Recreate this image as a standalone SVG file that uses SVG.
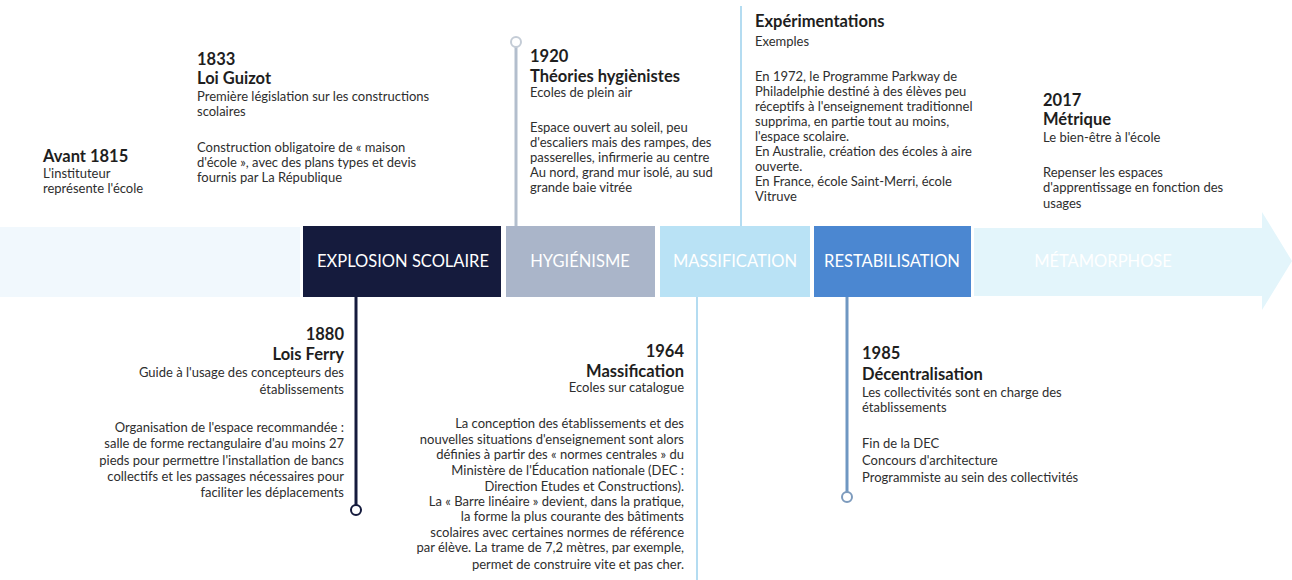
<svg xmlns="http://www.w3.org/2000/svg" width="1292" height="580" viewBox="0 0 1292 580">
  <style>
    text { font-family: Lato, "Open Sans", "Liberation Sans", sans-serif; }
    .yr { font-size: 16.5px; font-weight: 700; fill: #1e1e1e; }
    .ttl { font-size: 16.5px; font-weight: 700; fill: #1e1e1e; }
    .sub { font-size: 13px; fill: #2e2e2e; }
    .body { font-size: 13px; fill: #2e2e2e; }
    .band { font-size: 16.5px; fill: #ffffff; text-anchor: middle; }
    .end { text-anchor: end; }
    .pin { fill: #ffffff; stroke-width: 2; }
  </style>

  <rect width="1292" height="580" fill="#ffffff"/>

  <!-- timeline band -->
  <g id="band">
    <rect x="0" y="227" width="300" height="70" fill="#f1f8fd"/>
    <g id="phase-explosion">
      <rect x="303" y="226" width="198" height="71" fill="#151b3d"/>
      <text class="band" x="403" y="267" fill="#e9ebf2">EXPLOSION SCOLAIRE</text>
    </g>
    <g id="phase-hygienisme">
      <rect x="506" y="226" width="149" height="71" fill="#aab5c9"/>
      <text class="band" x="580" y="267">HYGIÉNISME</text>
    </g>
    <g id="phase-massification">
      <rect x="660" y="226" width="150" height="71" fill="#b9e2f5"/>
      <text class="band" x="735" y="267">MASSIFICATION</text>
    </g>
    <g id="phase-restabilisation">
      <rect x="814" y="226" width="157" height="71" fill="#4b87d1"/>
      <text class="band" x="892" y="267">RESTABILISATION</text>
    </g>
    <g id="phase-metamorphose">
      <path d="M974 228 H1262 V212 L1292 261 L1262 310 V296 H974 Z" fill="#e3f5fb"/>
      <text class="band" x="1103" y="267" fill="#f7fcfe">MÉTAMORPHOSE</text>
    </g>
  </g>

  <!-- connectors -->
  <g id="connectors" fill="none">
    <line x1="516" y1="47" x2="516" y2="226" stroke="#b3becd" stroke-width="3"/>
    <circle class="pin" cx="516" cy="42" r="5" stroke="#c4ccd6"/>
    <line x1="741" y1="6" x2="741" y2="226" stroke="#b4dcf1" stroke-width="2"/>
    <line x1="356" y1="297" x2="356" y2="505" stroke="#151b3d" stroke-width="3"/>
    <circle class="pin" cx="356" cy="510" r="5" stroke="#151b3d"/>
    <line x1="697" y1="297" x2="697" y2="580" stroke="#b4dcf1" stroke-width="2"/>
    <line x1="847" y1="297" x2="847" y2="492" stroke="#6f97c2" stroke-width="3"/>
    <circle class="pin" cx="847" cy="497" r="5" stroke="#7d9bbd"/>
  </g>

  <!-- events above the band -->
  <g id="e1815">
    <text class="ttl" x="43" y="162">Avant 1815</text>
    <text class="sub" x="43" y="178">L'instituteur</text>
    <text class="sub" x="43" y="193">représente l'école</text>
  </g>

  <g id="e1833">
    <text class="yr" x="197" y="65">1833</text>
    <text class="ttl" x="197" y="84">Loi Guizot</text>
    <text class="sub" x="197" y="101">Première législation sur les constructions</text>
    <text class="sub" x="197" y="116">scolaires</text>
    <text class="body" x="197" y="152">Construction obligatoire de « maison</text>
    <text class="body" x="197" y="167">d'école », avec des plans types et devis</text>
    <text class="body" x="197" y="182">fournis par La République</text>
  </g>

  <g id="e1920">
    <text class="yr" x="530" y="62">1920</text>
    <text class="ttl" x="530" y="82">Théories hygiènistes</text>
    <text class="sub" x="530" y="97">Ecoles de plein air</text>
    <text class="body" x="530" y="132">Espace ouvert au soleil, peu</text>
    <text class="body" x="530" y="147">d'escaliers mais des rampes, des</text>
    <text class="body" x="530" y="162">passerelles, infirmerie au centre</text>
    <text class="body" x="530" y="177">Au nord, grand mur isolé, au sud</text>
    <text class="body" x="530" y="192">grande baie vitrée</text>
  </g>

  <g id="experimentations">
    <text class="ttl" x="755" y="27">Expérimentations</text>
    <text class="sub" x="755" y="46">Exemples</text>
    <text class="body" x="755" y="81">En 1972, le Programme Parkway de</text>
    <text class="body" x="755" y="96">Philadelphie destiné à des élèves peu</text>
    <text class="body" x="755" y="111">réceptifs à l'enseignement traditionnel</text>
    <text class="body" x="755" y="126">supprima, en partie tout au moins,</text>
    <text class="body" x="755" y="141">l'espace scolaire.</text>
    <text class="body" x="755" y="156">En Australie, création des écoles à aire</text>
    <text class="body" x="755" y="171">ouverte.</text>
    <text class="body" x="755" y="186">En France, école Saint-Merri, école</text>
    <text class="body" x="755" y="201">Vitruve</text>
  </g>

  <g id="e2017">
    <text class="yr" x="1043" y="106">2017</text>
    <text class="ttl" x="1043" y="125">Métrique</text>
    <text class="sub" x="1043" y="142">Le bien-être à l'école</text>
    <text class="body" x="1043" y="177">Repenser les espaces</text>
    <text class="body" x="1043" y="192">d'apprentissage en fonction des</text>
    <text class="body" x="1043" y="208">usages</text>
  </g>

  <!-- events below the band -->
  <g id="e1880">
    <text class="yr end" x="344" y="340">1880</text>
    <text class="ttl end" x="344" y="360">Lois Ferry</text>
    <text class="sub end" x="344" y="377">Guide à l'usage des concepteurs des</text>
    <text class="sub end" x="344" y="394">établissements</text>
    <text class="body end" x="344" y="432">Organisation de l'espace recommandée :</text>
    <text class="body end" x="344" y="448">salle de forme rectangulaire d'au moins 27</text>
    <text class="body end" x="344" y="465">pieds pour permettre l'installation de bancs</text>
    <text class="body end" x="344" y="481">collectifs et les passages nécessaires pour</text>
    <text class="body end" x="344" y="497">faciliter les déplacements</text>
  </g>

  <g id="e1964">
    <text class="yr end" x="684" y="357">1964</text>
    <text class="ttl end" x="684" y="377">Massification</text>
    <text class="sub end" x="684" y="392">Ecoles sur catalogue</text>
    <text class="body end" x="684" y="428">La conception des établissements et des</text>
    <text class="body end" x="684" y="444">nouvelles situations d'enseignement sont alors</text>
    <text class="body end" x="684" y="459">définies à partir des « normes centrales » du</text>
    <text class="body end" x="684" y="475">Ministère de l'Éducation nationale (DEC :</text>
    <text class="body end" x="684" y="491">Direction Etudes et Constructions).</text>
    <text class="body end" x="684" y="506">La « Barre linéaire » devient, dans la pratique,</text>
    <text class="body end" x="684" y="521">la forme la plus courante des bâtiments</text>
    <text class="body end" x="684" y="537">scolaires avec certaines normes de référence</text>
    <text class="body end" x="684" y="552">par élève. La trame de 7,2 mètres, par exemple,</text>
    <text class="body end" x="684" y="569">permet de construire vite et pas cher.</text>
  </g>

  <g id="e1985">
    <text class="yr" x="862" y="359">1985</text>
    <text class="ttl" x="862" y="380">Décentralisation</text>
    <text class="sub" x="862" y="397">Les collectivités sont en charge des</text>
    <text class="sub" x="862" y="412">établissements</text>
    <text class="body" x="862" y="448">Fin de la DEC</text>
    <text class="body" x="862" y="465">Concours d'architecture</text>
    <text class="body" x="862" y="482">Programmiste au sein des collectivités</text>
  </g>
</svg>
